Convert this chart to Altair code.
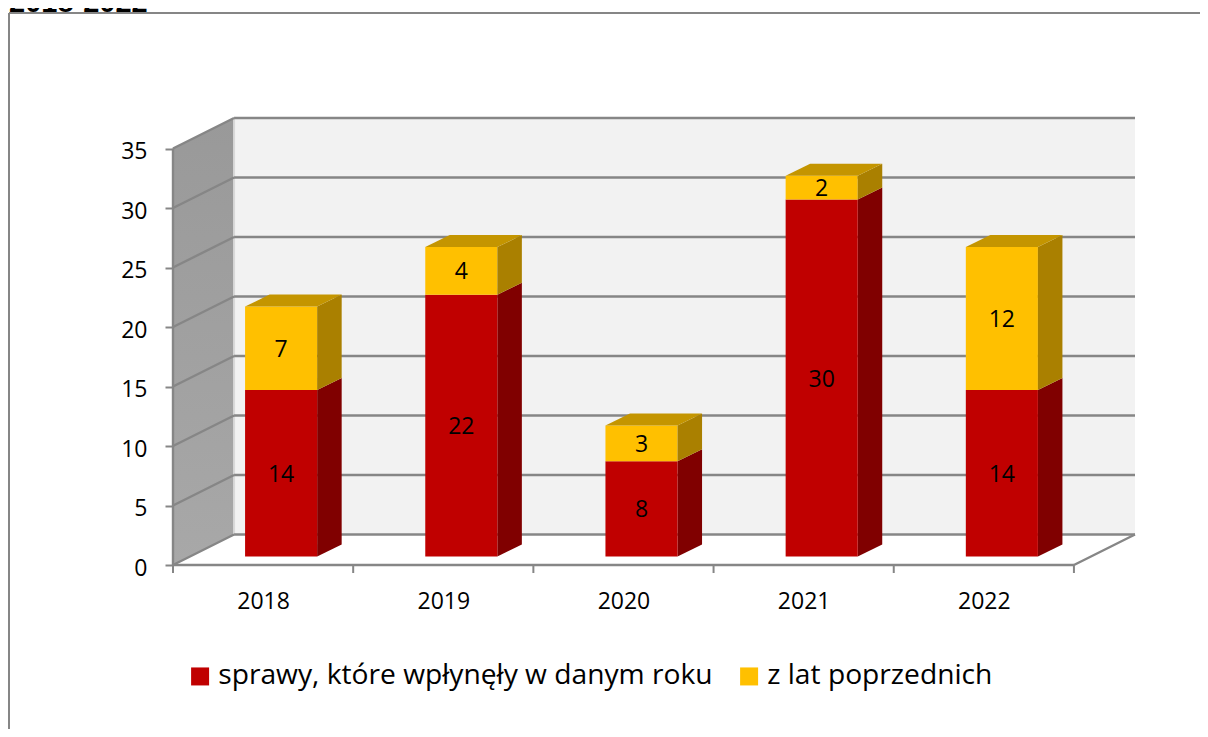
import altair as alt
import pandas as pd

years = ["2018", "2019", "2020", "2021", "2022"]
new_cases = [14, 22, 8, 30, 14]
prior_cases = [7, 4, 3, 2, 12]
y_ticks = [0, 5, 10, 15, 20, 25, 30, 35]
series_names = ["sprawy, które wpłynęły w danym roku", "z lat poprzednich"]
title_text = "2018-2022"

RED, YEL = "#C00000", "#FFC000"
RED_SIDE, YEL_SIDE, YEL_TOP = "#800000", "#AA8000", "#C49500"
GRID = "#868686"
FONT = "Open Sans"

PX_X, PX_Y = 180.0, 11.9          # pixels per category / per unit
WALL_DX, WALL_DY = 61 / PX_X, 30.5 / PX_Y
BAR_OFF_X, BAR_OFF_Y = 18 / PX_X, 8.5 / PX_Y
BAR_HALF = 36 / PX_X
BAR_DX, BAR_DY = 24.5 / PX_X, 12 / PX_Y
X_MAX = 5 + WALL_DX
Y_MAX = 448 / PX_Y
n = len(years)

x_s = alt.Scale(domain=[0, X_MAX], range=[0, 962], nice=False, zero=False)
y_s = alt.Scale(domain=[0, Y_MAX], range=[448, 0], nice=False, zero=False)
label_expr = "[" + ",".join(f"'{y}'" for y in years) + "][floor(datum.value)]"
x_axis = alt.Axis(
    values=[0.5 + i for i in range(n)], labelExpr=label_expr, title=None,
    ticks=False, domain=False, grid=False, labelFont=FONT, labelFontSize=23,
    labelColor="#000000", labelPadding=25, labelFlush=False, labelOverlap=False)
y_axis = alt.Axis(
    values=y_ticks, title=None, ticks=True, tickSize=8, tickColor=GRID, tickWidth=2,
    domain=False, grid=False, labelFont=FONT, labelFontSize=23, labelColor="#000000",
    labelPadding=18, labelOverlap=False, labelOffset=3)
X = lambda f="x": alt.X(f + ":Q", scale=x_s, axis=x_axis)
Y = lambda f="y": alt.Y(f + ":Q", scale=y_s, axis=y_axis, stack=None)

# --- segments
segs = []
for i in range(n):
    cx = i + 0.5 + BAR_OFF_X
    segs.append(dict(i=i, series=series_names[0], v=new_cases[i], lo=0, hi=new_cases[i], cx=cx))
    segs.append(dict(i=i, series=series_names[1], v=prior_cases[i], lo=new_cases[i],
                     hi=new_cases[i] + prior_cases[i], cx=cx))
seg = pd.DataFrame(segs)
seg["xl"] = seg.cx - BAR_HALF
seg["xr"] = seg.cx + BAR_HALF
seg["yl"] = seg.lo + BAR_OFF_Y
seg["yh"] = seg.hi + BAR_OFF_Y
seg["ym"] = (seg.yl + seg.yh) / 2

side_rows, top_rows = [], []
for r in seg.itertuples():
    side_rows += [dict(k=r.i, series=r.series, x=r.xr, y=r.yl, y2=r.yh),
                  dict(k=r.i, series=r.series, x=r.xr + BAR_DX, y=r.yl + BAR_DY, y2=r.yh + BAR_DY)]
    if r.series == series_names[1]:
        top_rows += [dict(k=r.i, x=r.xl, y=r.yh, y2=r.yh),
                     dict(k=r.i, x=r.xl + BAR_DX, y=r.yh, y2=r.yh + BAR_DY),
                     dict(k=r.i, x=r.xr, y=r.yh, y2=r.yh + BAR_DY),
                     dict(k=r.i, x=r.xr + BAR_DX, y=r.yh + BAR_DY, y2=r.yh + BAR_DY)]
side = pd.DataFrame(side_rows)
top = pd.DataFrame(top_rows)

# --- walls and grid
back = pd.DataFrame([dict(x=WALL_DX, x2=X_MAX, y=WALL_DY, y2=35 + WALL_DY)])
wall = pd.DataFrame([dict(x=0, y=0, y2=35), dict(x=WALL_DX, y=WALL_DY, y2=35 + WALL_DY)])
lines = []
for v in y_ticks:
    lines.append(dict(x=WALL_DX, x2=X_MAX, y=v + WALL_DY, y2=v + WALL_DY))
    lines.append(dict(x=0, x2=WALL_DX, y=v, y2=v + WALL_DY))
lines.append(dict(x=0, x2=5, y=0, y2=0))
lines.append(dict(x=5, x2=X_MAX, y=0, y2=WALL_DY))
lines.append(dict(x=0, x2=0, y=0, y2=35))
lines = pd.DataFrame(lines)
xticks = pd.DataFrame([dict(x=i, y=0, y2=-8 / PX_Y) for i in range(n + 1)])
back_edge = pd.DataFrame([dict(x=WALL_DX, y=WALL_DY, y2=35 + WALL_DY)])

# --- layers
wall_fill = alt.LinearGradient(
    gradient="linear", x1=0, x2=0, y1=0, y2=1,
    stops=[alt.GradientStop(offset=0, color="#999999"), alt.GradientStop(offset=1, color="#A8A8A8")])
back_l = alt.Chart(back).mark_rect(color="#F2F2F2").encode(x=X(), x2="x2:Q", y=Y(), y2="y2:Q")
wall_l = alt.Chart(wall).mark_area(color=wall_fill, orient="vertical").encode(x=X(), y=Y(), y2="y2:Q")
edge_l = alt.Chart(back_edge).mark_rule(color="#D9D9D9", strokeWidth=2).encode(x=X(), y=Y(), y2="y2:Q")
grid_l = alt.Chart(lines).mark_rule(color=GRID, strokeWidth=2.4).encode(x=X(), x2="x2:Q", y=Y(), y2="y2:Q")
tick_l = alt.Chart(xticks).mark_rule(color=GRID, strokeWidth=2).encode(x=X(), y=Y(), y2="y2:Q")


def side_layer(name, colour):
    return alt.Chart(side[side.series == name]).mark_area(color=colour, orient="vertical").encode(
        x=X(), y=Y(), y2="y2:Q", detail="k:N")


top_l = alt.Chart(top).mark_area(color=YEL_TOP, orient="vertical").encode(
    x=X(), y=Y(), y2="y2:Q", detail="k:N")

front_l = alt.Chart(seg).mark_rect().encode(
    x=X("xl"), x2="xr:Q", y=Y("yl"), y2="yh:Q",
    color=alt.Color("series:N", scale=alt.Scale(domain=series_names, range=[RED, YEL]), title=None,
                    sort=series_names,
                    legend=alt.Legend(orient="none", legendX=13, legendY=545, direction="horizontal",
                                      columns=2, symbolType="square", symbolSize=324, symbolStrokeWidth=0,
                                      labelFont=FONT, labelFontSize=28.2, labelColor="#000000",
                                      labelLimit=800, labelOffset=4, columnPadding=22, padding=0,
                                      symbolOpacity=1)),
)
text_l = alt.Chart(seg).mark_text(font=FONT, fontSize=23, color="#000000", baseline="middle", dy=1.5).encode(
    x=X("cx"), y=Y("ym"), text="v:Q")

one = pd.DataFrame({"t": [title_text]})
frame_top = alt.Chart(one).mark_rule(color=GRID, strokeWidth=2).encode(
    x=alt.value(-164), x2=alt.value(1035), y=alt.value(-104))
frame_left = alt.Chart(one).mark_rule(color=GRID, strokeWidth=2).encode(
    x=alt.value(-164), y=alt.value(-104), y2=alt.value(620))
title_l = alt.Chart(one).mark_text(
    font="Liberation Sans", fontSize=29, fontWeight="bold", color="#000000", align="left", baseline="alphabetic"
).encode(x=alt.value(-164), y=alt.value(-105.5), text="t:N")

chart = alt.layer(
    frame_top, frame_left, title_l, back_l, wall_l, edge_l, grid_l, tick_l,
    side_layer(series_names[0], RED_SIDE), front_l, side_layer(series_names[1], YEL_SIDE), top_l, text_l,
).properties(
    width=962, height=448,
    autosize=alt.AutoSizeParams(type="none"),
    padding={"left": 165, "top": 109, "right": 65, "bottom": 164},
).configure_view(stroke=None)

chart.save("out.html", embed_options={"renderer": "svg", "actions": False})
